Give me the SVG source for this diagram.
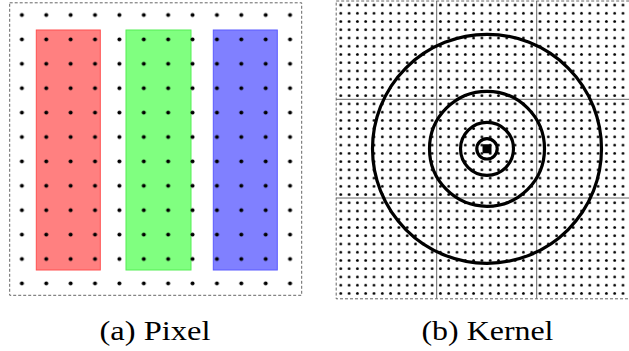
<svg xmlns="http://www.w3.org/2000/svg" width="629" height="351" viewBox="0 0 629 351">
<style>
.frame{fill:none;stroke:#555;stroke-width:0.9;stroke-dasharray:3 2}
.grid{stroke:#666;stroke-width:1;fill:none}
.ring{fill:none;stroke:#000;stroke-width:3.2}
.cap{font-family:"Liberation Serif","Times New Roman",serif;font-size:27px;fill:#000;text-anchor:middle}
</style>
<defs>
<pattern id="dotsA" patternUnits="userSpaceOnUse" x="9.7" y="2.8" width="24.38" height="24.4">
<circle cx="12.19" cy="12.2" r="2" fill="#000"/>
</pattern>
<pattern id="dotsB" patternUnits="userSpaceOnUse" x="336.65" y="0.88" width="8.3" height="8.24">
<circle cx="4.15" cy="4.12" r="1.4" fill="#000"/>
</pattern>
</defs>
<rect width="629" height="351" fill="#fff"/>
<g id="pixel">
<rect id="red" x="36.3" y="30" width="64" height="240" fill="#ff8080" stroke="#ff5050" stroke-width="1"/>
<rect id="green" x="126" y="30" width="65" height="240" fill="#80ff80" stroke="#55ee55" stroke-width="1"/>
<rect id="blue" x="213.3" y="30" width="64" height="240" fill="#8080ff" stroke="#5a5aff" stroke-width="1"/>
<rect x="9.7" y="2.8" width="292.5" height="292.8" fill="url(#dotsA)"/>
<rect class="frame" x="9.7" y="2.8" width="292" height="292.5"/>
</g>
<g id="kernel">
<rect x="336.2" y="1" width="293" height="297.5" fill="url(#dotsB)"/>
<g id="gridlines">
<line class="grid" x1="436.7" y1="1" x2="436.7" y2="298.5"/>
<line class="grid" x1="536.7" y1="1" x2="536.7" y2="298.5"/>
<line class="grid" x1="336.2" y1="99.3" x2="629" y2="99.3"/>
<line class="grid" x1="336.2" y1="198" x2="629" y2="198"/>
</g>
<rect class="frame" x="336.2" y="1" width="302" height="297.8"/>
<g id="rings">
<circle class="ring" cx="487" cy="148.8" r="114.5"/>
<circle class="ring" cx="487" cy="148.8" r="57.5"/>
<circle class="ring" cx="487" cy="148.8" r="26.5"/>
<circle class="ring" cx="487" cy="148.8" r="10.2"/>
<rect x="482.5" y="144.3" width="9" height="9" rx="1.2" fill="#000"/>
</g>
</g>
<g id="captions">
<text class="cap" x="155" y="340" textLength="111" lengthAdjust="spacingAndGlyphs">(a) Pixel</text>
<text class="cap" x="487.5" y="340" textLength="132" lengthAdjust="spacingAndGlyphs">(b) Kernel</text>
</g>
</svg>
